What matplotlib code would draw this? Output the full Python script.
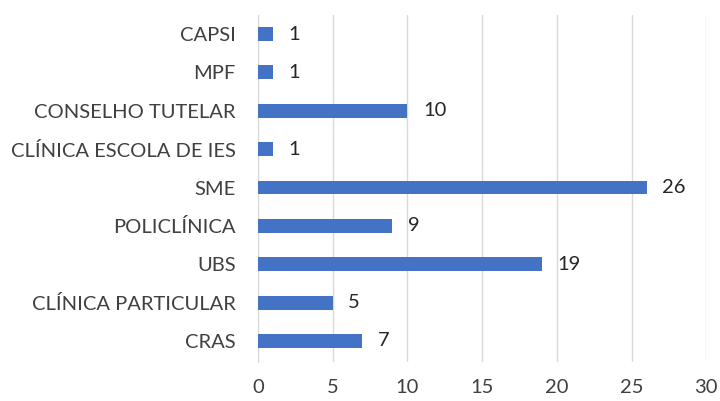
import matplotlib.pyplot as plt

categories = ["CRAS", "CLÍNICA PARTICULAR", "UBS", "POLICLÍNICA", "SME",
              "CLÍNICA ESCOLA DE IES", "CONSELHO TUTELAR", "MPF", "CAPSI"]
values = [7, 5, 19, 9, 26, 1, 10, 1, 1]
xticks = [0, 5, 10, 15, 20, 25, 30]

plt.rcParams['font.family'] = ['Lato', 'DejaVu Sans']
fig = plt.figure(figsize=(7.2, 4.01), dpi=100)
ax = fig.add_axes([0.358, 0.097, 0.623, 0.866])

y = range(len(categories))
ax.barh(y, values, height=0.36, color="#4472C4", zorder=3)
for yi, v in zip(y, values):
    ax.text(v + 1.05, yi, str(v), va="center", ha="left", fontsize=14.5, color="#262626")

ax.set_yticks(list(y))
ax.set_yticklabels(categories, fontsize=14.5, color="#404040")
ax.set_xticks(xticks)
ax.set_xticklabels([str(t) for t in xticks], fontsize=14.5, color="#404040")
ax.set_xlim(0, 30)
ax.set_ylim(-0.55, len(categories) - 0.5)
ax.grid(axis="x", color="#D9D9D9", linewidth=1, zorder=0)
for s in ["top", "right", "bottom"]:
    ax.spines[s].set_visible(False)
ax.spines["left"].set_color("#D9D9D9")
ax.tick_params(axis="both", length=0)
ax.tick_params(axis="x", pad=12)
ax.tick_params(axis="y", pad=16)

fig.savefig("out.png", dpi=100)
